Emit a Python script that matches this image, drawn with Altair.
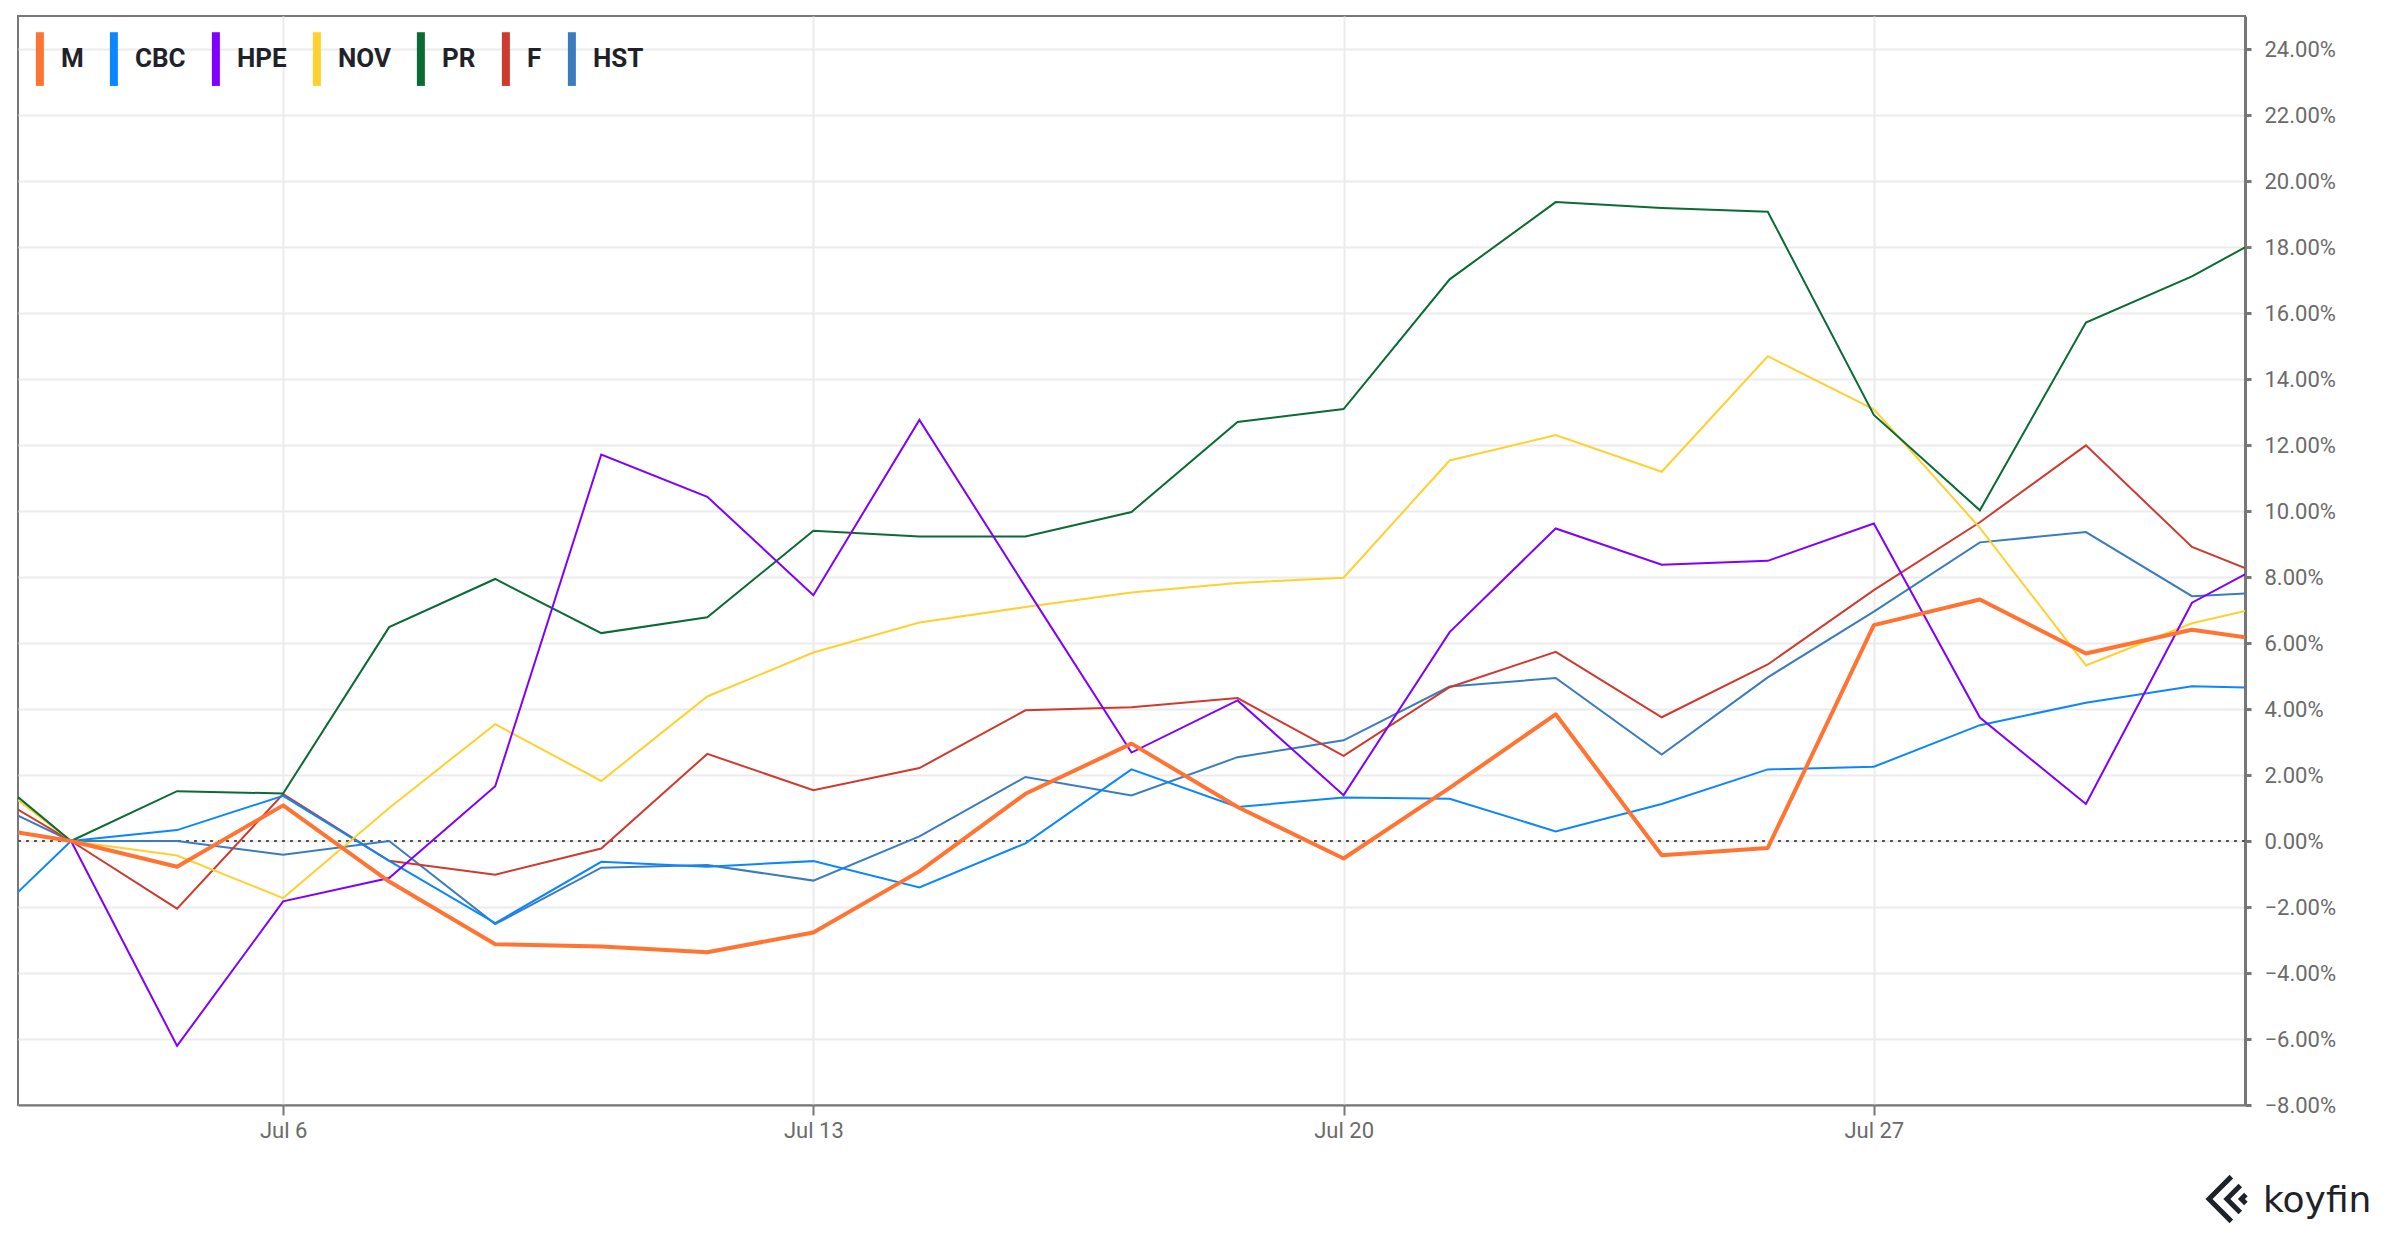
import altair as alt
import pandas as pd

# trading-day index (0 = Jul 6); -2.5 and 18.5 are the chart edges
idx = [-2.5, -2, -1, 0, 1, 2, 3, 4, 5, 6, 7, 8, 9, 10, 11, 12, 13, 14, 15, 16, 17, 18, 18.5]
tick_idx = [0, 5, 10, 15]
tick_labels = ["Jul 6", "Jul 13", "Jul 20", "Jul 27"]
y_ticks = list(range(-8, 25, 2))

symbols = ["M", "CBC", "HPE", "NOV", "PR", "F", "HST"]
colors = ["#ff7433", "#0a87ff", "#8000ff", "#ffd02f", "#0b6b35", "#cf3a2f", "#3a7cbd"]

M = [0.26, 0, -0.78, 1.08, -1.23, -3.13, -3.2, -3.37, -2.77, -0.92, 1.43, 2.95, 1.03, -0.53, 1.61, 3.84, -0.43, -0.21, 6.54, 7.32, 5.68, 6.4, 6.17]
CBC = [-1.55, 0, 0.33, 1.37, -0.6, -2.49, -0.63, -0.78, -0.61, -1.41, -0.07, 2.17, 1.03, 1.32, 1.28, 0.29, 1.12, 2.17, 2.25, 3.51, 4.19, 4.69, 4.65]
HPE = [None, 0, -6.21, -1.83, -1.12, 1.66, 11.71, 10.43, 7.45, 12.76, 7.7, 2.68, 4.26, 1.39, 6.33, 9.47, 8.37, 8.49, 9.62, 3.74, 1.12, 7.22, 8.08]
NOV = [1.24, 0, -0.44, -1.73, 1.0, 3.54, 1.82, 4.38, 5.71, 6.62, 7.09, 7.53, 7.82, 7.98, 11.53, 12.3, 11.19, 14.69, 13.08, 9.49, 5.32, 6.6, 6.97]
PR = [1.33, 0, 1.51, 1.44, 6.48, 7.94, 6.3, 6.78, 9.4, 9.23, 9.23, 9.97, 12.7, 13.09, 17.02, 19.36, 19.18, 19.07, 12.91, 10.02, 15.71, 17.11, 17.99]
F = [0.95, 0, -2.05, 1.42, -0.6, -1.02, -0.23, 2.64, 1.54, 2.21, 3.96, 4.05, 4.33, 2.58, 4.66, 5.73, 3.75, 5.35, 7.6, 9.66, 11.99, 8.91, 8.27]
HST = [0.77, 0, 0.0, -0.42, 0.0, -2.52, -0.81, -0.73, -1.2, 0.14, 1.94, 1.38, 2.54, 3.05, 4.68, 4.94, 2.62, 4.96, 6.95, 9.05, 9.36, 7.42, 7.5]

series = {"M": M, "CBC": CBC, "HPE": HPE, "NOV": NOV, "PR": PR, "F": F, "HST": HST}
draw_order = ["HST", "F", "CBC", "NOV", "PR", "HPE", "M"]

rows = []
for order, s in enumerate(draw_order):
    for i, v in zip(idx, series[s]):
        if v is not None:
            rows.append({"sym": s, "i": i, "v": v, "o": order})
df = pd.DataFrame(rows)

W, H = 2227, 1089
FONT = "Roboto"
GRID = "#ebebeb"
AX = "#777777"

x_labels_expr = "[" + ",".join(f"'{t}'" for t in tick_labels) + "][indexof([" + ",".join(str(t) for t in tick_idx) + "], datum.value)]"

x_enc = alt.X(
    "i:Q",
    scale=alt.Scale(domain=[-2.5, 18.5], nice=False, zero=False),
    axis=alt.Axis(
        values=tick_idx, labelExpr=x_labels_expr, title=None, grid=True,
        gridColor=GRID, gridWidth=2, domainColor=AX, domainWidth=2,
        tickColor=AX, tickWidth=2, tickSize=10, labelPadding=5,
        labelFontSize=22, labelColor="#6b6b6b", labelFont=FONT,
    ),
)
y_enc = alt.Y(
    "v:Q",
    scale=alt.Scale(domain=[-8, 25], nice=False, zero=False),
    axis=alt.Axis(
        orient="right", values=y_ticks, labelExpr="format(datum.value, '.2f') + '%'",
        title=None, grid=True, gridColor=GRID, gridWidth=2, domainColor=AX,
        domainWidth=3, tickColor=AX, tickWidth=3, tickSize=6, labelPadding=13,
        labelFontSize=22, labelColor="#6b6b6b", labelFont=FONT,
    ),
)
color_enc = alt.Color(
    "sym:N",
    scale=alt.Scale(domain=symbols, range=colors),
    sort=symbols,
    legend=alt.Legend(
        title=None, orient="none", legendX=17, legendY=30, direction="horizontal",
        columns=7, symbolType="M-1.3,-4.3L-1.3,4.3", symbolSize=156, symbolStrokeWidth=8,
        symbolOpacity=1, labelFontSize=26, labelFontWeight="bold", labelColor="#1f2329",
        labelFont=FONT, labelOffset=0, columnPadding=13,
    ),
)

base = alt.Chart(df)

thin = base.transform_filter(alt.datum.sym != "M").mark_line(strokeWidth=2, clip=True).encode(
    x=x_enc, y=y_enc, color=color_enc, detail="o:O", order="i:Q"
)
main = base.transform_filter(alt.datum.sym == "M").mark_line(strokeWidth=4, clip=True, strokeJoin="round").encode(
    x=x_enc, y=y_enc, color=color_enc, order="i:Q"
)

zero = alt.Chart(pd.DataFrame({"v": [0]})).mark_rule(
    color="#555555", strokeWidth=2, strokeDash=[3, 5]
).encode(y=alt.Y("v:Q"))

logo_text = alt.Chart(pd.DataFrame({"t": ["koyfin"]})).mark_text(
    align="left", baseline="alphabetic", font="DejaVu Sans", fontSize=36, color="#1e2229"
).encode(x=alt.value(2245), y=alt.value(1196), text="t:N")

logo_mark = alt.Chart(pd.DataFrame({"t": ["logo"]})).mark_point(
    shape="M0.15,-1 L-0.85,0 L0.15,1 M0.55,-0.6 L-0.05,0 L0.55,0.6 M0.8,-0.2 L0.6,0 L0.8,0.2",
    size=2000, filled=False, strokeWidth=5, color="#1e2229", opacity=1,
).encode(x=alt.value(2210), y=alt.value(1183))

chart = alt.layer(zero, thin, main, logo_mark, logo_text).properties(
    width=W, height=H, padding={"left": 9, "top": 8, "right": 5, "bottom": 2},
    background="white",
).configure_view(stroke=AX, strokeWidth=2)

chart.save("out.html", embed_options={"renderer": "svg", "actions": False})
